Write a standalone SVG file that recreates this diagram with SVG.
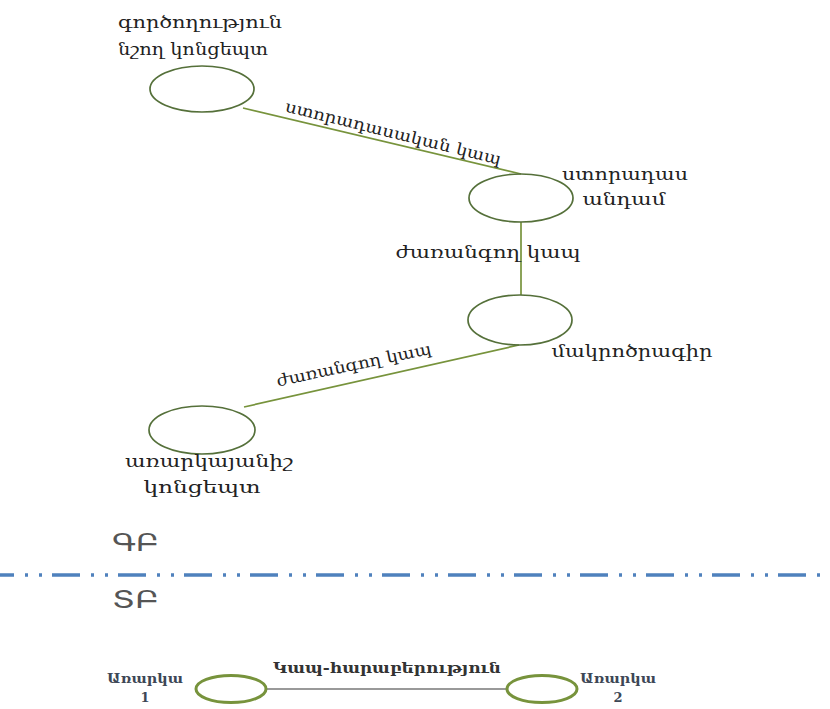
<svg xmlns="http://www.w3.org/2000/svg" width="830" height="709" viewBox="0 0 830 709">
<style>
.node ellipse{fill:none;stroke:#55703a;stroke-width:1.7}
.lbl{font-family:"DejaVu Serif",serif;font-size:16px;fill:#222}
.conn line{stroke:#77933c;stroke-width:1.7}
.big{font-family:"DejaVu Sans",sans-serif;font-size:24px;fill:#555}
.b ellipse{fill:none;stroke:#77933c;stroke-width:3}
.bl{font-family:"DejaVu Serif",serif;font-size:13px;font-weight:bold;fill:#3d4756}
</style>
<rect width="830" height="709" fill="#fff"/>
<g id="connectors" class="conn">
<line x1="243" y1="108" x2="521" y2="174"/>
<line x1="521" y1="222" x2="521" y2="295"/>
<line x1="519" y1="345" x2="244" y2="407"/>
</g>
<g id="n1" class="node">
<ellipse cx="202" cy="89" rx="52" ry="23"/>
<text class="lbl" x="118" y="28" textLength="164" lengthAdjust="spacingAndGlyphs">գործողություն</text>
<text class="lbl" x="118" y="55" textLength="150" lengthAdjust="spacingAndGlyphs">նշող կոնցեպտ</text>
</g>
<g id="n2" class="node">
<ellipse cx="521" cy="198" rx="52" ry="24"/>
<text class="lbl" x="625" y="180" text-anchor="middle" textLength="126" lengthAdjust="spacingAndGlyphs">ստորադաս</text>
<text class="lbl" x="624" y="205" text-anchor="middle" textLength="83" lengthAdjust="spacingAndGlyphs">անդամ</text>
</g>
<g id="n3" class="node">
<ellipse cx="520" cy="320" rx="52" ry="25"/>
<text class="lbl" x="632" y="357" text-anchor="middle" textLength="161" lengthAdjust="spacingAndGlyphs">մակրոծրագիր</text>
</g>
<g id="n4" class="node">
<ellipse cx="202" cy="430" rx="53" ry="24"/>
<text class="lbl" x="209" y="467" text-anchor="middle" textLength="168" lengthAdjust="spacingAndGlyphs">առարկայանիշ</text>
<text class="lbl" x="202" y="493" text-anchor="middle" textLength="117" lengthAdjust="spacingAndGlyphs">կոնցեպտ</text>
</g>
<g id="edge-labels">
<text class="lbl" x="392" y="138" text-anchor="middle" textLength="222" lengthAdjust="spacingAndGlyphs" transform="rotate(14 392 138)">ստորադասական կապ</text>
<text class="lbl" x="488" y="258" text-anchor="middle" textLength="185" lengthAdjust="spacingAndGlyphs">ժառանգող կապ</text>
<text class="lbl" x="355" y="370" text-anchor="middle" textLength="158" lengthAdjust="spacingAndGlyphs" transform="rotate(-12 355 370)">ժառանգող կապ</text>
</g>
<g id="sections">
<text class="big" x="112" y="551" textLength="47" lengthAdjust="spacingAndGlyphs">ԳԲ</text>
<line x1="0" y1="575" x2="830" y2="575" stroke="#4f81bd" stroke-width="3.5" stroke-dasharray="28 11 3 11 3 10" stroke-dashoffset="-52"/>
<text class="big" x="112" y="608" textLength="47" lengthAdjust="spacingAndGlyphs">ՏԲ</text>
</g>
<g id="bottom-connector">
<line x1="266" y1="689" x2="507" y2="689" stroke="#999" stroke-width="2"/>
</g>
<g id="b1" class="b">
<ellipse cx="231" cy="689" rx="35" ry="13.5"/>
<text class="bl" x="145" y="683" text-anchor="middle" textLength="76" lengthAdjust="spacingAndGlyphs">Առարկա</text>
<text class="bl" x="145" y="702" text-anchor="middle">1</text>
</g>
<g id="b2" class="b">
<ellipse cx="542" cy="689" rx="35" ry="13.5"/>
<text class="bl" x="618" y="683" text-anchor="middle" textLength="76" lengthAdjust="spacingAndGlyphs">Առարկա</text>
<text class="bl" x="618" y="702" text-anchor="middle">2</text>
</g>
<text class="lbl" x="387" y="673" text-anchor="middle" textLength="228" lengthAdjust="spacingAndGlyphs" style="font-size:15px;font-weight:bold;fill:#333">Կապ-հարաբերություն</text>
</svg>
